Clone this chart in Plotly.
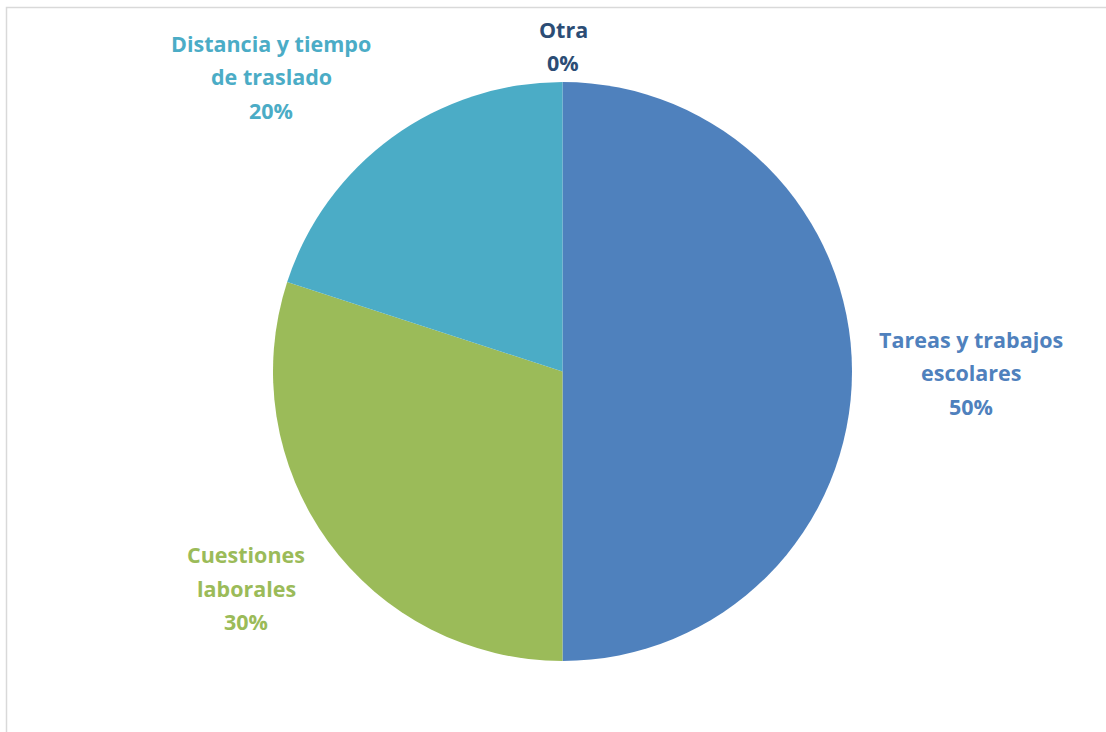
import plotly.graph_objects as go

W, H = 1106, 732

# ---- data ----
categories = ["Tareas y trabajos escolares", "Cuestiones laborales", "Distancia y tiempo de traslado", "Otra"]
values = [50, 30, 20, 0]
label_lines = [["Tareas y trabajos", "escolares"], ["Cuestiones", "laborales"], ["Distancia y tiempo", "de traslado"], ["Otra"]]

# ---- style ----
slice_colors = ["#4F81BD", "#9BBB59", "#4BACC6", "#1F497D"]
label_colors = ["#4F81BD", "#9BBB59", "#4BACC6", "#2C4D75"]
# label centre positions in pixels (layout only)
label_pos = [(971, 373), (246, 588), (271, 77), (563, 46)]
line_gap = 33.5
FONT = "Open Sans"

cx, cy, r = 562.5, 371.5, 289.5

fig = go.Figure(go.Pie(
    labels=categories,
    values=values,
    sort=False,
    direction="clockwise",
    rotation=0,
    marker=dict(colors=slice_colors, line=dict(width=0)),
    textinfo="none",
    hoverinfo="label+percent",
    showlegend=False,
    domain=dict(x=[(cx - r) / W, (cx + r) / W], y=[1 - (cy + r) / H, 1 - (cy - r) / H]),
))

total = sum(values)
annotations = []
for i, cat in enumerate(categories):
    lines = label_lines[i] + [f"{round(values[i] / total * 100)}%"]
    x, y = label_pos[i]
    n = len(lines)
    for j, t in enumerate(lines):
        ly = y + (j - (n - 1) / 2) * line_gap
        annotations.append(dict(
            x=x / W, y=1 - ly / H, xref="paper", yref="paper",
            text=f"<b>{t}</b>", showarrow=False, xanchor="center", yanchor="middle",
            font=dict(family=FONT, size=21.5, color=label_colors[i]),
        ))

fig.update_layout(
    width=W, height=H,
    margin=dict(l=0, r=0, t=0, b=0),
    paper_bgcolor="white", plot_bgcolor="white",
    annotations=annotations,
    shapes=[dict(type="rect", xref="paper", yref="paper",
                 x0=6.5 / W, x1=1.02, y0=-0.02, y1=1 - 7.5 / H,
                 line=dict(color="#D9D9D9", width=1.5), fillcolor="rgba(0,0,0,0)")],
)

fig.write_html("out.html")
